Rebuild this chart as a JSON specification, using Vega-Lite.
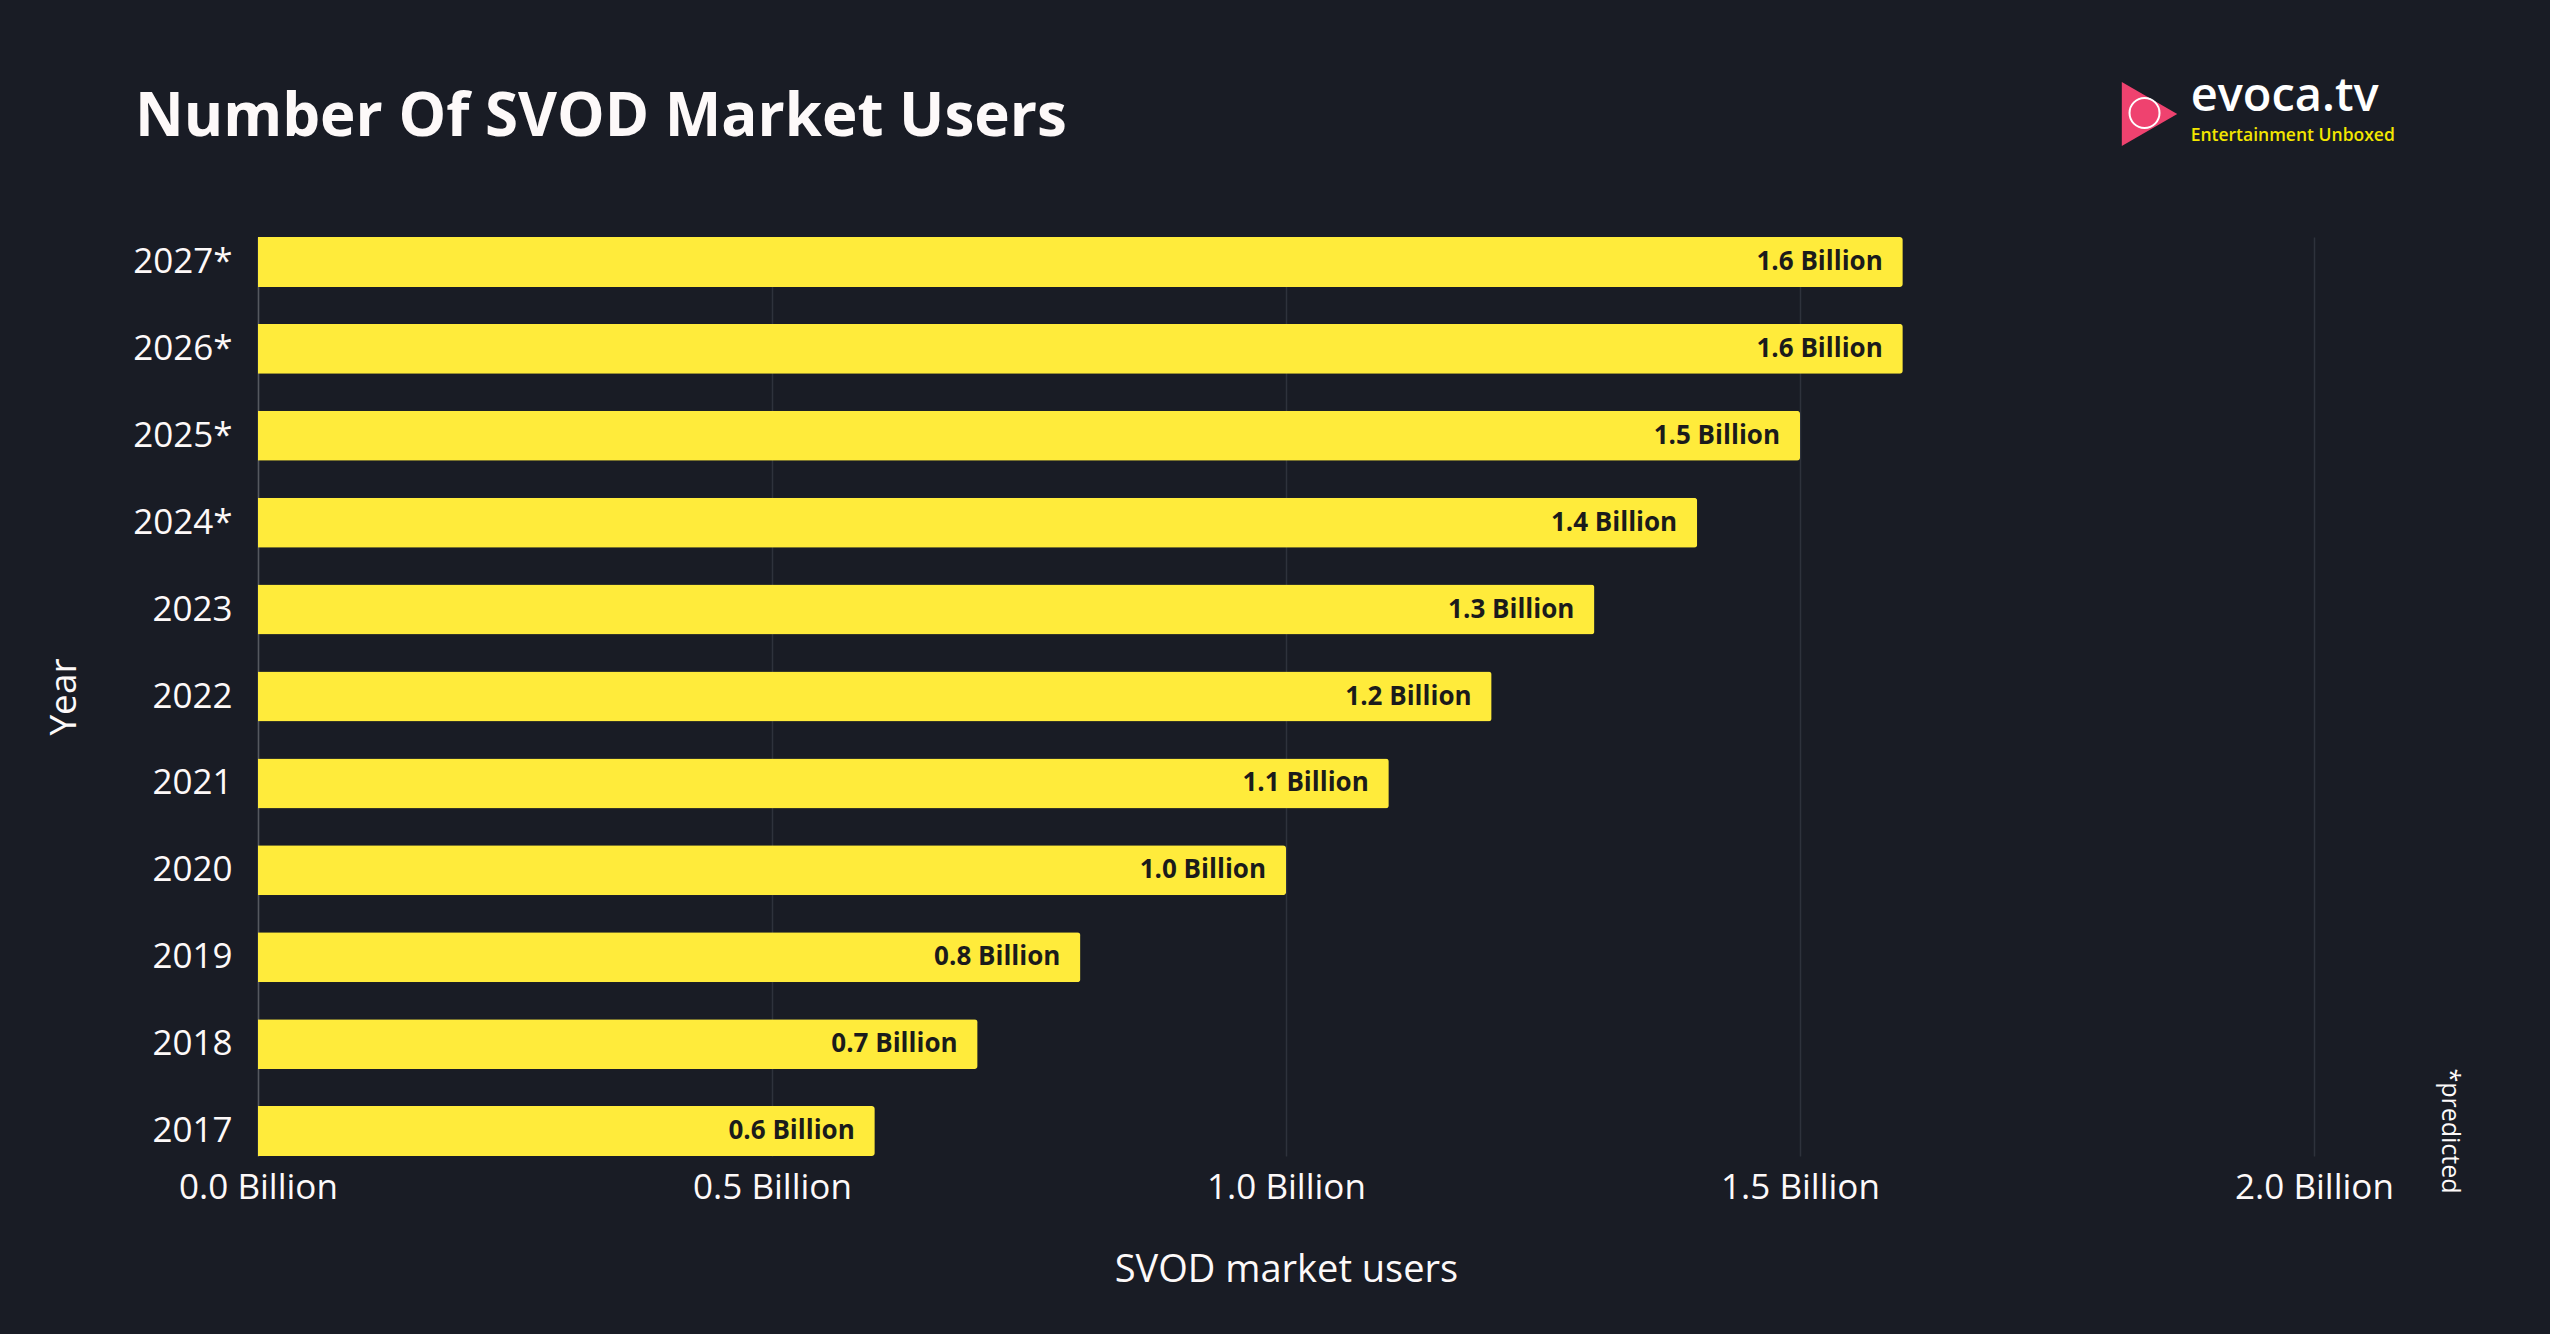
{
  "$schema": "https://vega.github.io/schema/vega-lite/v6.json",
  "width": 2056,
  "height": 919,
  "autosize": {"type": "none"},
  "padding": {"left": 258, "top": 237, "right": 236, "bottom": 178},
  "background": "#191c25",
  "config": {"view": {"stroke": null}, "font": "Open Sans"},
  "title": {
    "text": "Number Of SVOD Market Users",
    "anchor": "start",
    "frame": "group",
    "fontSize": 60,
    "fontWeight": "bold",
    "color": "#fdf9f9",
    "dx": -123,
    "dy": 96,
    "offset": 20
  },
  "data": {
    "values": [
      {"year": "2027*", "users": 1.6, "label": "1.6 Billion"},
      {"year": "2026*", "users": 1.6, "label": "1.6 Billion"},
      {"year": "2025*", "users": 1.5, "label": "1.5 Billion"},
      {"year": "2024*", "users": 1.4, "label": "1.4 Billion"},
      {"year": "2023", "users": 1.3, "label": "1.3 Billion"},
      {"year": "2022", "users": 1.2, "label": "1.2 Billion"},
      {"year": "2021", "users": 1.1, "label": "1.1 Billion"},
      {"year": "2020", "users": 1.0, "label": "1.0 Billion"},
      {"year": "2019", "users": 0.8, "label": "0.8 Billion"},
      {"year": "2018", "users": 0.7, "label": "0.7 Billion"},
      {"year": "2017", "users": 0.6, "label": "0.6 Billion"}
    ]
  },
  "encoding": {
    "y": {
      "field": "year",
      "type": "nominal",
      "sort": "descending",
      "scale": {"paddingInner": 0.425, "paddingOuter": 0},
      "axis": {
        "title": "Year",
        "titleColor": "#fdf9f9",
        "titleFontSize": 37,
        "titleFontWeight": "normal",
        "titlePadding": 49,
        "labelColor": "#fdf9f9",
        "labelFontSize": 35,
        "labelFontWeight": 500,
        "labelPadding": 26,
        "ticks": false,
        "domain": true,
        "domainColor": "#55585f",
        "domainWidth": 1.5,
        "grid": false
      }
    }
  },
  "layer": [
    {
      "mark": {"type": "bar", "color": "#ffeb3b", "cornerRadiusEnd": 3},
      "encoding": {
        "x": {
          "field": "users",
          "type": "quantitative",
          "scale": {"domain": [0, 2]},
          "axis": {
            "title": "SVOD market users",
            "titleColor": "#fdf9f9",
            "titleFontSize": 38,
            "titleFontWeight": "normal",
            "titlePadding": 46,
            "values": [0, 0.5, 1, 1.5, 2],
            "labelExpr": "format(datum.value, '.1f') + ' Billion'",
            "labelFlush": false,
            "labelColor": "#fdf9f9",
            "labelFontSize": 35,
            "labelFontWeight": 500,
            "labelPadding": 14,
            "ticks": false,
            "domain": false,
            "grid": true,
            "gridColor": "#2e323c",
            "gridWidth": 1.5
          }
        }
      }
    },
    {
      "mark": {"type": "text", "align": "right", "baseline": "middle", "dx": -20, "fontSize": 26, "fontWeight": "bold", "color": "#1b1b1b"},
      "encoding": {
        "x": {"field": "users", "type": "quantitative"},
        "text": {"field": "label"}
      }
    },
    {
      "data": {"values": [{}]},
      "mark": {"type": "point", "shape": "triangle-right", "filled": true, "size": 4096, "color": "#ef426f", "opacity": 1, "yOffset": -148},
      "encoding": {"x": {"datum": 1.84}, "y": {"datum": "2027*"}}
    },
    {
      "data": {"values": [{}]},
      "mark": {"type": "point", "shape": "circle", "filled": false, "size": 900, "stroke": "#ffffff", "strokeWidth": 2, "opacity": 1, "yOffset": -149, "xOffset": -5},
      "encoding": {"x": {"datum": 1.84}, "y": {"datum": "2027*"}}
    },
    {
      "data": {"values": [{}]},
      "mark": {"type": "text", "text": "evoca.tv", "align": "left", "baseline": "alphabetic", "fontSize": 47, "fontWeight": 600, "color": "#ffffff", "yOffset": -151},
      "encoding": {"x": {"datum": 1.88}, "y": {"datum": "2027*"}}
    },
    {
      "data": {"values": [{}]},
      "mark": {"type": "text", "text": "Entertainment Unboxed", "align": "left", "baseline": "alphabetic", "fontSize": 17.5, "fontWeight": 600, "color": "#f2e600", "yOffset": -121},
      "encoding": {"x": {"datum": 1.88}, "y": {"datum": "2027*"}}
    },
    {
      "data": {"values": [{}]},
      "mark": {"type": "text", "text": "*predicted", "align": "center", "baseline": "middle", "angle": 90, "fontSize": 25, "color": "#fdf9f9"},
      "encoding": {"x": {"datum": 2.132}, "y": {"datum": "2017"}}
    }
  ]
}
